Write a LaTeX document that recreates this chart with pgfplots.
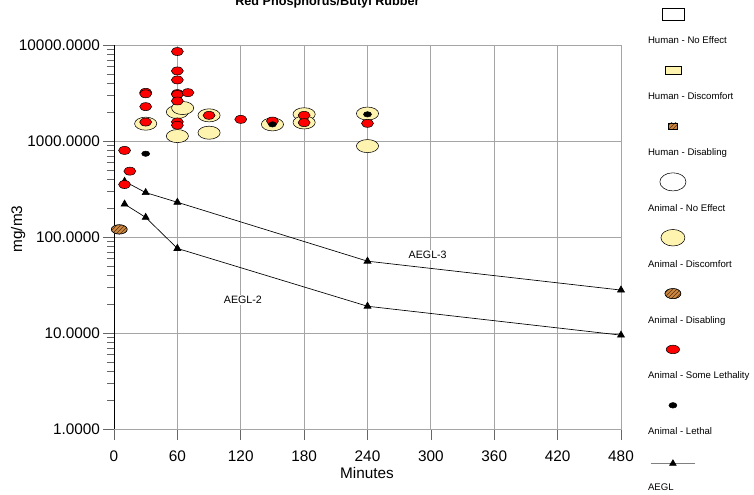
\documentclass[border=0pt]{standalone}
\usepackage{pgfplots}
\pgfplotsset{compat=1.18}
\usepackage{fontspec}
\setmainfont{Liberation Sans}
\usetikzlibrary{patterns}
\definecolor{cream}{RGB}{255,243,176}
\definecolor{redm}{RGB}{255,0,0}
\definecolor{brownm}{RGB}{204,136,64}
\definecolor{hatchc}{RGB}{90,50,20}
\definecolor{gridc}{RGB}{165,165,165}
\begin{document}
\begin{tikzpicture}
\path[use as bounding box] (0pt,0pt) rectangle (565.5pt,370.5pt);
\node[font=\bfseries\fontsize{9.5}{11}\selectfont, anchor=base] at (245.6pt,366.4pt) {Red Phosphorus/Butyl Rubber};
\begin{axis}[
  at={(85.5pt,48.75pt)}, anchor=south west,
  scale only axis, width=380.25pt, height=288pt,
  ymode=log, xmin=0, xmax=480, ymin=1, ymax=10000,
  xtick={0,60,...,480},
  ytick={1,10,100,1000,10000},
  yticklabels={1.0000,10.0000,100.0000,1000.0000,10000.0000},
  /pgf/number format/assume math mode=true,
  tick label style={font=\fontsize{11.5}{13}\selectfont},
  xticklabel style={yshift=-4.5pt},
  yticklabel style={xshift=1pt},
  label style={font=\fontsize{11.5}{13}\selectfont},
  tick pos=left, tick align=outside,
  major tick length=8pt, minor tick length=5pt,
  every tick/.style={gray!80!black, line width=0.5pt},
  axis line style={gridc},
  grid=major, major grid style={gridc, line width=0.6pt},
  xlabel={Minutes}, ylabel={mg/m3},
  xlabel style={at={(axis description cs:0.499,-0.115)}, anchor=center},
  ylabel style={at={(axis description cs:-0.189,0.521)}, anchor=center},
  clip=false,
  legend cell align=left,
  legend style={at={(1,1)}, anchor=north west, xshift=20pt, yshift=6.3pt,
    draw=none, fill=none, inner sep=0pt, row sep=35.3pt, column sep=0pt,
    font=\fontsize{7.2}{8}\selectfont,
    nodes={inner sep=0pt, text height=5.2pt, text depth=1.4pt}},
]
\addlegendimage{legend image code/.code={\draw[overlay,black,fill=white] (10.5pt,15.4pt) rectangle (27pt,25.1pt); \path[draw=none,fill=none] (0pt,-1pt) rectangle (0.1pt,1pt);}}
\addlegendentry{Human - No Effect}
\addlegendimage{legend image code/.code={\draw[overlay,black,fill=cream] (12.75pt,17.4pt) rectangle (24.75pt,23.1pt); \path[draw=none,fill=none] (0pt,-1pt) rectangle (0.1pt,1pt);}}
\addlegendentry{Human - Discomfort}
\addlegendimage{legend image code/.code={\draw[overlay,black!70,fill=brownm] (15.4pt,18pt) rectangle (22.1pt,22.5pt); \fill[overlay,pattern=north east lines,pattern color=hatchc] (15.4pt,18pt) rectangle (22.1pt,22.5pt); \path[draw=none,fill=none] (0pt,-1pt) rectangle (0.1pt,1pt);}}
\addlegendentry{Human - Disabling}
\addlegendimage{legend image code/.code={\draw[overlay,black,fill=white] (18.75pt,20.25pt) ellipse [x radius=9.8pt, y radius=6.8pt]; \path[draw=none,fill=none] (0pt,-1pt) rectangle (0.1pt,1pt);}}
\addlegendentry{Animal - No Effect}
\addlegendimage{legend image code/.code={\draw[overlay,black,fill=cream] (18.75pt,20.25pt) ellipse [x radius=9pt, y radius=6.2pt]; \path[draw=none,fill=none] (0pt,-1pt) rectangle (0.1pt,1pt);}}
\addlegendentry{Animal - Discomfort}
\addlegendimage{legend image code/.code={\draw[overlay,black!70,fill=brownm] (18.75pt,20.25pt) ellipse [x radius=6pt, y radius=3.8pt]; \fill[overlay,pattern=north east lines,pattern color=hatchc] (18.75pt,20.25pt) ellipse [x radius=6pt, y radius=3.8pt]; \path[draw=none,fill=none] (0pt,-1pt) rectangle (0.1pt,1pt);}}
\addlegendentry{Animal - Disabling}
\addlegendimage{legend image code/.code={\draw[overlay,black,fill=redm] (18.75pt,20.25pt) ellipse [x radius=5pt, y radius=3.2pt]; \path[draw=none,fill=none] (0pt,-1pt) rectangle (0.1pt,1pt);}}
\addlegendentry{Animal - Some Lethality}
\addlegendimage{legend image code/.code={\fill[overlay,black] (18.75pt,20.25pt) ellipse [x radius=3pt, y radius=2.1pt]; \path[draw=none,fill=none] (0pt,-1pt) rectangle (0.1pt,1pt);}}
\addlegendentry{Animal - Lethal}
\addlegendimage{legend image code/.code={\draw[overlay,gray,line width=0.8pt] (2pt,18.75pt) -- (35pt,18.75pt); \fill[overlay,black] (18.75pt,18.75pt) ++(0,2.6pt) -- ++(-2.5pt,-4.2pt) -- ++(5pt,0) -- cycle; \path[draw=none,fill=none] (0pt,-1pt) rectangle (0.1pt,1pt);}}
\addlegendentry{AEGL}

\draw[black, line width=0.7pt] (rel axis cs:0,0) -- (rel axis cs:0,1);

% AEGL lines
\addplot[forget plot, black, line width=0.5pt, mark=triangle*, mark size=3pt] coordinates {(10,380) (30,290) (60,230) (240,56) (480,28)};
\addplot[forget plot, black, line width=0.5pt, mark=triangle*, mark size=3pt] coordinates {(10,220) (30,160) (60,76) (240,19) (480,9.5)};

% Animal - Discomfort
\addplot[forget plot, only marks, mark=*, mark size=4.9pt, mark options={xscale=1.7, fill=cream, draw=black, line width=0.4pt}] coordinates {
(30,1515) (60,2005) (65,2205) (60,1125) (90,1850) (90,1220) (150,1490) (180,1900) (180,1560) (240,1930) (240,885)};

% Animal - Disabling
\addplot[forget plot, only marks, mark=*, mark size=3.5pt, mark options={xscale=1.7, fill=brownm, draw=black!70, line width=0.4pt}] coordinates {(5,120)};
\addplot[forget plot, only marks, mark=*, mark size=3.5pt, mark options={xscale=1.7, draw=none, pattern=north east lines, pattern color=hatchc}] coordinates {(5,120)};

% Animal - Some Lethality
\addplot[forget plot, only marks, mark=*, mark size=3pt, mark options={xscale=1.5, fill=redm, draw=black, line width=0.4pt}] coordinates {
(10,798) (10,352) (15,485) (30,3215) (30,3100) (30,2280) (30,1575)
(60,8550) (60,5370) (60,4325) (60,3120) (60,3050) (60,2610) (60,1580) (60,1460)
(70,3190) (90,1850) (120,1680) (150,1615) (180,1850) (180,1553) (240,1527)};

% Animal - Lethal
\addplot[forget plot, only marks, mark=*, mark size=2pt, mark options={xscale=1.5, fill=black, draw=black}] coordinates {(30,737) (150,1490) (240,1895)};

\node[font=\fontsize{8}{9}\selectfont, fill=white, inner sep=1pt] at (axis cs:297,65.5) {AEGL-3};
\node[font=\fontsize{8}{9}\selectfont, fill=white, inner sep=1pt] at (axis cs:122,22.2) {AEGL-2};
\end{axis}
\end{tikzpicture}
\end{document}
